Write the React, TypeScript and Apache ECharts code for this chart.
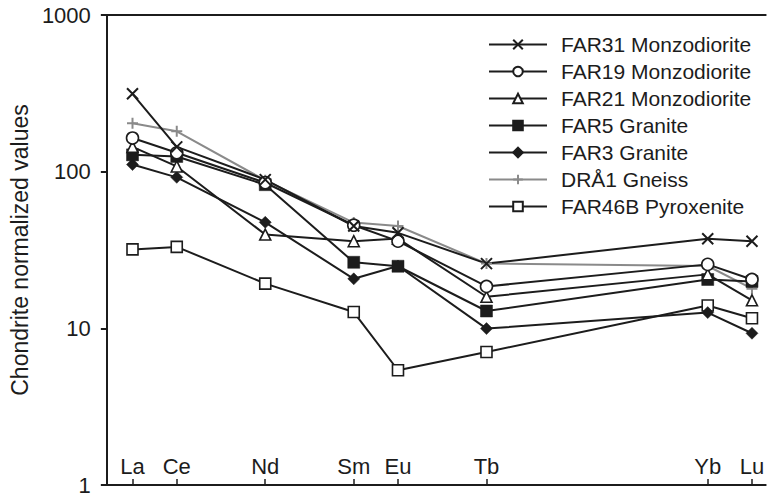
import React, { useEffect, useRef } from "react";
import * as echarts from "echarts";

// Element positions (atomic number) and labels
const elementNames = ["La", "Ce", "Nd", "Sm", "Eu", "Tb", "Yb", "Lu"];
const elementPos = [57, 58, 60, 62, 63, 65, 70, 71];

const seriesNames = [
  "FAR31 Monzodiorite",
  "FAR19 Monzodiorite",
  "FAR21 Monzodiorite",
  "FAR5 Granite",
  "FAR3 Granite",
  "DRÅ1 Gneiss",
  "FAR46B Pyroxenite",
];

const far31 = [314, 144, 89, 45, 40.7, 25.9, 37.3, 36.0];
const far19 = [164, 132, 85, 45.5, 36.0, 18.5, 25.6, 20.5];
const far21 = [144, 108, 39.7, 36.0, 37.4, 15.9, 22.1, 15.1];
const far5 = [128, 125, 82.6, 26.4, 24.9, 12.9, 20.5, 19.9];
const far3 = [111, 92, 47.5, 20.7, 25.0, 9.96, 12.6, 9.3];
const dra1 = [204, 181, 88, 47.3, 45.0, 25.9, 25.0, 17.9];
const far46b = [31.9, 33.1, 19.3, 12.7, 5.4, 7.06, 14.0, 11.6];

const yTicks = [1, 10, 100, 1000];

const FONT = "'Liberation Sans', Arial, Helvetica, sans-serif";
const INK = "#1c1c1c";
const GREY = "#8a8a8a";

const X_PATH = "path://M0,0L10,10M10,0L0,10";
const PLUS_PATH = "path://M5,0L5,10M0,5L10,5";

export default function App() {
  const ref = useRef<HTMLDivElement>(null);

  useEffect(() => {
    if (!ref.current) return;
    const chart = echarts.init(ref.current, undefined, { renderer: "svg" });

    const toData = (vals: number[]) => vals.map((v, i) => [elementPos[i], v]);

    const mk = (
      name: string,
      vals: number[],
      symbol: string,
      size: number,
      fill: string,
      stroke: string,
      lineColor: string,
      bw: number
    ) => ({
      name,
      type: "line",
      data: toData(vals),
      symbol,
      symbolSize: size,
      showAllSymbol: true,
      lineStyle: { color: lineColor, width: 2 },
      itemStyle: { color: fill, borderColor: stroke, borderWidth: bw },
      emphasis: { disabled: true },
    });

    const series = [
      mk(seriesNames[6], far46b, "rect", 11, "#ffffff", INK, INK, 1.6),
      mk(seriesNames[5], dra1, PLUS_PATH, 11, GREY, GREY, GREY, 2),
      mk(seriesNames[4], far3, "diamond", 12, INK, INK, INK, 0.5),
      mk(seriesNames[3], far5, "rect", 12, INK, INK, INK, 0.5),
      mk(seriesNames[2], far21, "triangle", 11, "#ffffff", INK, INK, 1.6),
      mk(seriesNames[1], far19, "circle", 12, "#ffffff", INK, INK, 1.6),
      mk(seriesNames[0], far31, X_PATH, 11, INK, INK, INK, 2),
    ];

    const xMin = 56.42;
    const xMax = 71.31;

    chart.setOption({
      animation: false,
      backgroundColor: "#ffffff",
      textStyle: { fontFamily: FONT },
      grid: { left: 97, top: 15, bottom: 10, right: 0, containLabel: false },
      legend: {
        data: seriesNames,
        orient: "vertical",
        left: 483,
        top: 29,
        itemWidth: 58,
        itemHeight: 12,
        itemGap: 6,
        selectedMode: false,
        textStyle: {
          fontFamily: FONT,
          fontSize: 21,
          color: INK,
          padding: [0, 0, 0, 9],
        },
      },
      xAxis: [
        {
          type: "value",
          min: xMin,
          max: xMax,
          position: "bottom",
          axisLine: { show: true, onZero: false, lineStyle: { color: INK, width: 2 } },
          axisTick: {
            show: true,
            inside: true,
            length: 6,
            customValues: elementPos,
            lineStyle: { color: INK, width: 1.5 },
          },
          axisLabel: {
            show: true,
            inside: true,
            margin: 8,
            customValues: elementPos,
            formatter: (v: number) => {
              const i = elementPos.indexOf(Math.round(v));
              return i >= 0 ? elementNames[i] : "";
            },
            fontFamily: FONT,
            fontSize: 22,
            color: INK,
          },
          splitLine: { show: false },
        },
        {
          type: "value",
          min: xMin,
          max: xMax,
          position: "top",
          axisLine: { show: true, onZero: false, lineStyle: { color: INK, width: 2 } },
          axisTick: { show: false },
          axisLabel: { show: false },
          splitLine: { show: false },
        },
      ],
      yAxis: {
        type: "log",
        logBase: 10,
        min: 1,
        max: 1000,
        name: "Chondrite normalized values",
        nameLocation: "middle",
        nameRotate: 90,
        nameGap: 65,
        nameTextStyle: { fontFamily: FONT, fontSize: 23, color: INK },
        axisLine: { show: true, lineStyle: { color: INK, width: 2 } },
        axisTick: { show: true, length: 6, customValues: yTicks, lineStyle: { color: INK, width: 2 } },
        axisLabel: {
          show: true,
          margin: 16,
          customValues: yTicks,
          formatter: (v: number) => String(Math.round(v)),
          fontFamily: FONT,
          fontSize: 22,
          color: INK,
        },
        splitLine: { show: false },
        minorTick: { show: false },
      },
      series,
    });

    return () => chart.dispose();
  }, []);

  return (
    <div
      style={{ position: "fixed", left: 0, top: 0, width: 767, height: 496, overflow: "hidden", background: "#fff" }}
    >
      <div ref={ref} style={{ width: 767, height: 496 }} />
    </div>
  );
}
